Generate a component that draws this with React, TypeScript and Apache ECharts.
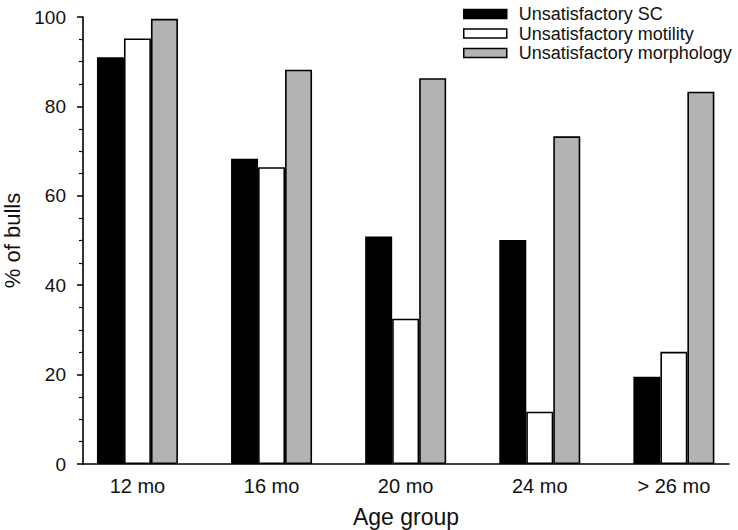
import React, { useEffect, useRef } from "react";
import * as echarts from "echarts";

const categories = ["12 mo", "16 mo", "20 mo", "24 mo", "> 26 mo"];
const seriesNames = ["Unsatisfactory SC", "Unsatisfactory motility", "Unsatisfactory morphology"];
const scValues = [91.0, 68.3, 50.9, 50.1, 19.5];
const motilityValues = [95.2, 66.4, 32.5, 11.7, 25.1];
const morphologyValues = [99.6, 88.2, 86.3, 73.3, 83.3];
const yTicks = [0, 20, 40, 60, 80, 100];

export default function App() {
  const ref = useRef<HTMLDivElement>(null);
  useEffect(() => {
    document.body.style.margin = "0";
    if (!ref.current) return;
    const chart = echarts.init(ref.current, null, { renderer: "svg" });
    const font = "Liberation Sans, Arial, sans-serif";
    const mk = (name: string, vals: number[], color: string) => ({
      name,
      type: "bar",
      barWidth: 27,
      barGap: "0%",
      data: vals.map((v, i) => [i, v]),
      itemStyle: { color, borderColor: "#000", borderWidth: 1.6 },
    });
    chart.setOption({
      animation: false,
      backgroundColor: "#fff",
      textStyle: { fontFamily: font },
      grid: { left: 83, right: 9, top: 17, bottom: 66, outerBoundsMode: "none", containLabel: false },
      legend: {
        orient: "vertical",
        left: 458,
        top: 0,
        itemWidth: 43,
        itemHeight: 9,
        itemGap: 1.5,
        icon: "rect",
        textStyle: { fontSize: 18, lineHeight: 18, color: "#111", fontFamily: font, padding: [0, 0, 0, 7] },
        data: seriesNames.map((n) => ({ name: n, itemStyle: { borderColor: "#000", borderWidth: 1.5 } })),
      },
      xAxis: {
        type: "value",
        min: -0.406,
        max: 4.411,
        name: "Age group",
        nameLocation: "middle",
        nameGap: 41,
        nameTextStyle: { fontSize: 23, color: "#111", fontFamily: font },
        axisLine: { show: true, onZero: false, lineStyle: { color: "#000", width: 1.6 } },
        axisTick: { show: false },
        splitLine: { show: false },
        axisLabel: {
          customValues: [0, 1, 2, 3, 4],
          formatter: (v: number) => categories[Math.round(v)] ?? "",
          fontSize: 20,
          color: "#111",
          margin: 12,
          fontFamily: font,
        },
      },
      yAxis: {
        type: "value",
        min: 0,
        max: 100,
        interval: 20,
        name: "% of bulls",
        nameLocation: "middle",
        nameGap: 57,
        nameTextStyle: { fontSize: 22, color: "#111", fontFamily: font },
        axisLine: { show: true, onZero: false, lineStyle: { color: "#000", width: 1.6 } },
        axisTick: { show: true, length: 6, lineStyle: { color: "#000", width: 1.5 } },
        minorTick: { show: true, splitNumber: 4, length: 4, lineStyle: { color: "#000", width: 1.2 } },
        splitLine: { show: false },
        axisLabel: {
          fontSize: 19,
          color: "#111",
          margin: 17,
          fontFamily: font,
          formatter: (v: number) => (yTicks.includes(v) ? String(v) : ""),
        },
      },
      series: [
        mk(seriesNames[0], scValues, "#000"),
        mk(seriesNames[1], motilityValues, "#fff"),
        mk(seriesNames[2], morphologyValues, "#b3b3b3"),
      ],
    });
    return () => chart.dispose();
  }, []);
  return <div ref={ref} style={{ width: 738, height: 530 }} />;
}
